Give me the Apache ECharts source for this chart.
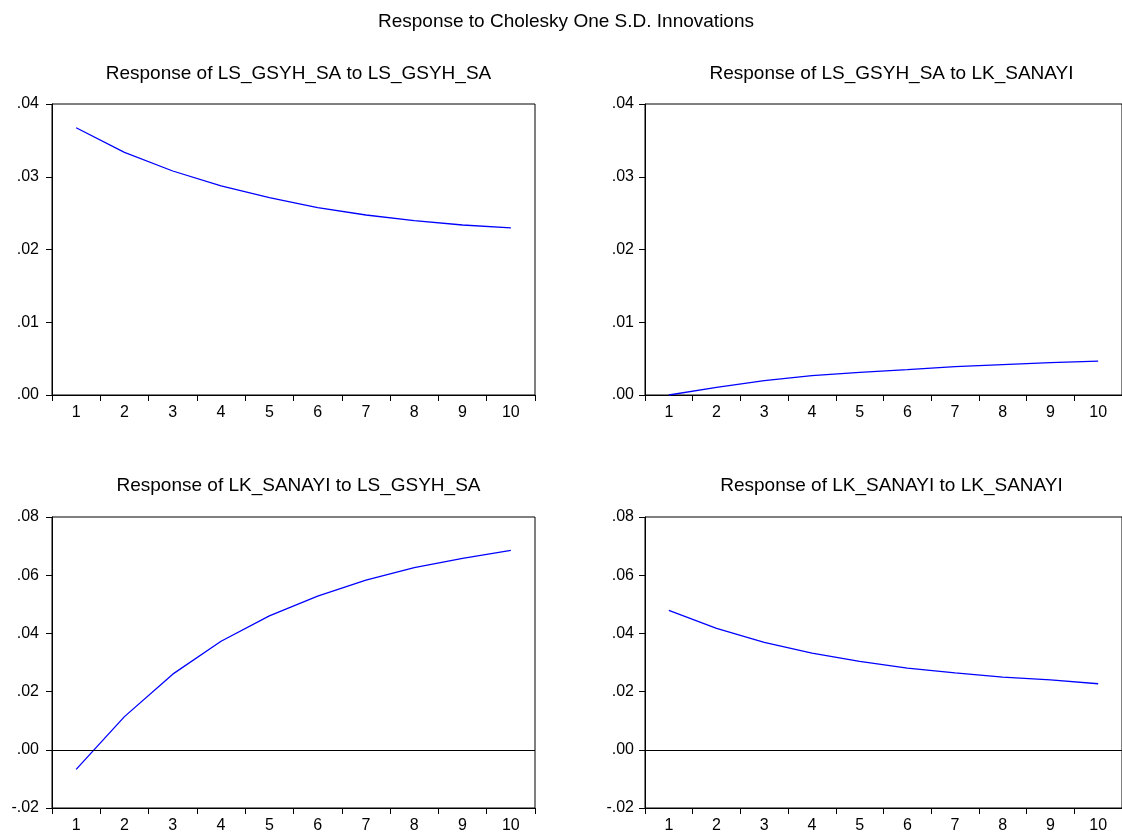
<!DOCTYPE html>
<html>
<head>
<meta charset="utf-8">
<script src="https://cdn.jsdelivr.net/npm/echarts@6/dist/echarts.min.js"></script>
<style>html,body{margin:0;padding:0;background:#fff;}#c{width:1122px;height:834px;}</style>
</head>
<body>
<div id="c"></div>
<script>
const periods = ['1','2','3','4','5','6','7','8','9','10'];
const mainTitle = 'Response to Cholesky One S.D. Innovations';
const panelTitles = [
  'Response of LS_GSYH_SA to LS_GSYH_SA',
  'Response of LS_GSYH_SA to LK_SANAYI',
  'Response of LK_SANAYI to LS_GSYH_SA',
  'Response of LK_SANAYI to LK_SANAYI'
];
const gsyhToGsyh = [0.03674, 0.03336, 0.03079, 0.02873, 0.02712, 0.02575, 0.02474, 0.02396, 0.02337, 0.02296];
const gsyhToSanayi = [0.0000, 0.00105, 0.00197, 0.00266, 0.00311, 0.00348, 0.00390, 0.00417, 0.00444, 0.00467];
const sanayiToGsyh = [-0.00674, 0.0114, 0.0260, 0.0373, 0.0460, 0.0528, 0.0583, 0.0626, 0.0658, 0.0685];
const sanayiToSanayi = [0.0479, 0.0417, 0.0369, 0.0332, 0.0304, 0.0281, 0.0264, 0.0250, 0.0240, 0.0227];
const yRanges = [[0, 0.04, 0.01], [0, 0.04, 0.01], [-0.02, 0.08, 0.02], [-0.02, 0.08, 0.02]];
const seriesData = [gsyhToGsyh, gsyhToSanayi, sanayiToGsyh, sanayiToSanayi];

const FONT = '"Liberation Sans", Arial, sans-serif';
const grids = [
  {left: 52, top: 104, width: 483, height: 291},
  {left: 645, top: 104, width: 483, height: 291},
  {left: 52, top: 517, width: 483, height: 292},
  {left: 645, top: 517, width: 483, height: 292}
];
const titleTops = [59, 59, 471, 471];
const yMargins = [13, 11, 13, 11];

function fmt(v) {
  let s = Math.abs(v).toFixed(2).replace(/^0/, '');
  return (v < -1e-9 ? '-' : '') + s;
}

const option = {
  animation: false,
  backgroundColor: '#ffffff',
  title: [{
    text: mainTitle, left: 561, top: 7, textAlign: 'center',
    textStyle: {fontFamily: FONT, fontSize: 19, fontWeight: 'normal', color: '#000'}
  }].concat(panelTitles.map((t, i) => ({
    text: t,
    left: grids[i].left + 241.5, top: titleTops[i], textAlign: 'center',
    textStyle: {fontFamily: FONT, fontSize: 19, fontWeight: 'normal', color: '#000'}
  }))),
  grid: grids.map(g => Object.assign({show: true, borderColor: '#000', borderWidth: 1, backgroundColor: 'transparent'}, g)),
  xAxis: grids.map((g, i) => ({
    type: 'category', gridIndex: i, data: periods, boundaryGap: true,
    axisLine: {onZero: false, lineStyle: {color: '#000', width: 1}},
    axisTick: {show: true, length: 6, alignWithLabel: false, lineStyle: {color: '#000'}},
    axisLabel: {fontFamily: FONT, fontSize: 16, color: '#000', margin: 10},
    splitLine: {show: false}
  })),
  yAxis: grids.map((g, i) => ({
    type: 'value', gridIndex: i, min: yRanges[i][0], max: yRanges[i][1], interval: yRanges[i][2],
    axisLine: {show: true, onZero: false, lineStyle: {color: '#000', width: 1}},
    axisTick: {show: true, length: 6, lineStyle: {color: '#000'}},
    axisLabel: {fontFamily: FONT, fontSize: 16, color: '#000', margin: yMargins[i], formatter: fmt},
    splitLine: {show: false}
  })),
  series: seriesData.map((d, i) => {
    const s = {
      type: 'line', xAxisIndex: i, yAxisIndex: i, data: d,
      showSymbol: false, symbol: 'none', smooth: false,
      lineStyle: {color: '#0000ff', width: 1.3},
      silent: true
    };
    if (yRanges[i][0] < 0) {
      s.markLine = {
        silent: true, symbol: ['none', 'none'], label: {show: false},
        lineStyle: {color: '#000', width: 1, type: 'solid'},
        data: [{yAxis: 0}]
      };
    }
    return s;
  })
};
const chart = echarts.init(document.getElementById('c'), null, {renderer: 'canvas'});
chart.setOption(option);
</script>
</body>
</html>
